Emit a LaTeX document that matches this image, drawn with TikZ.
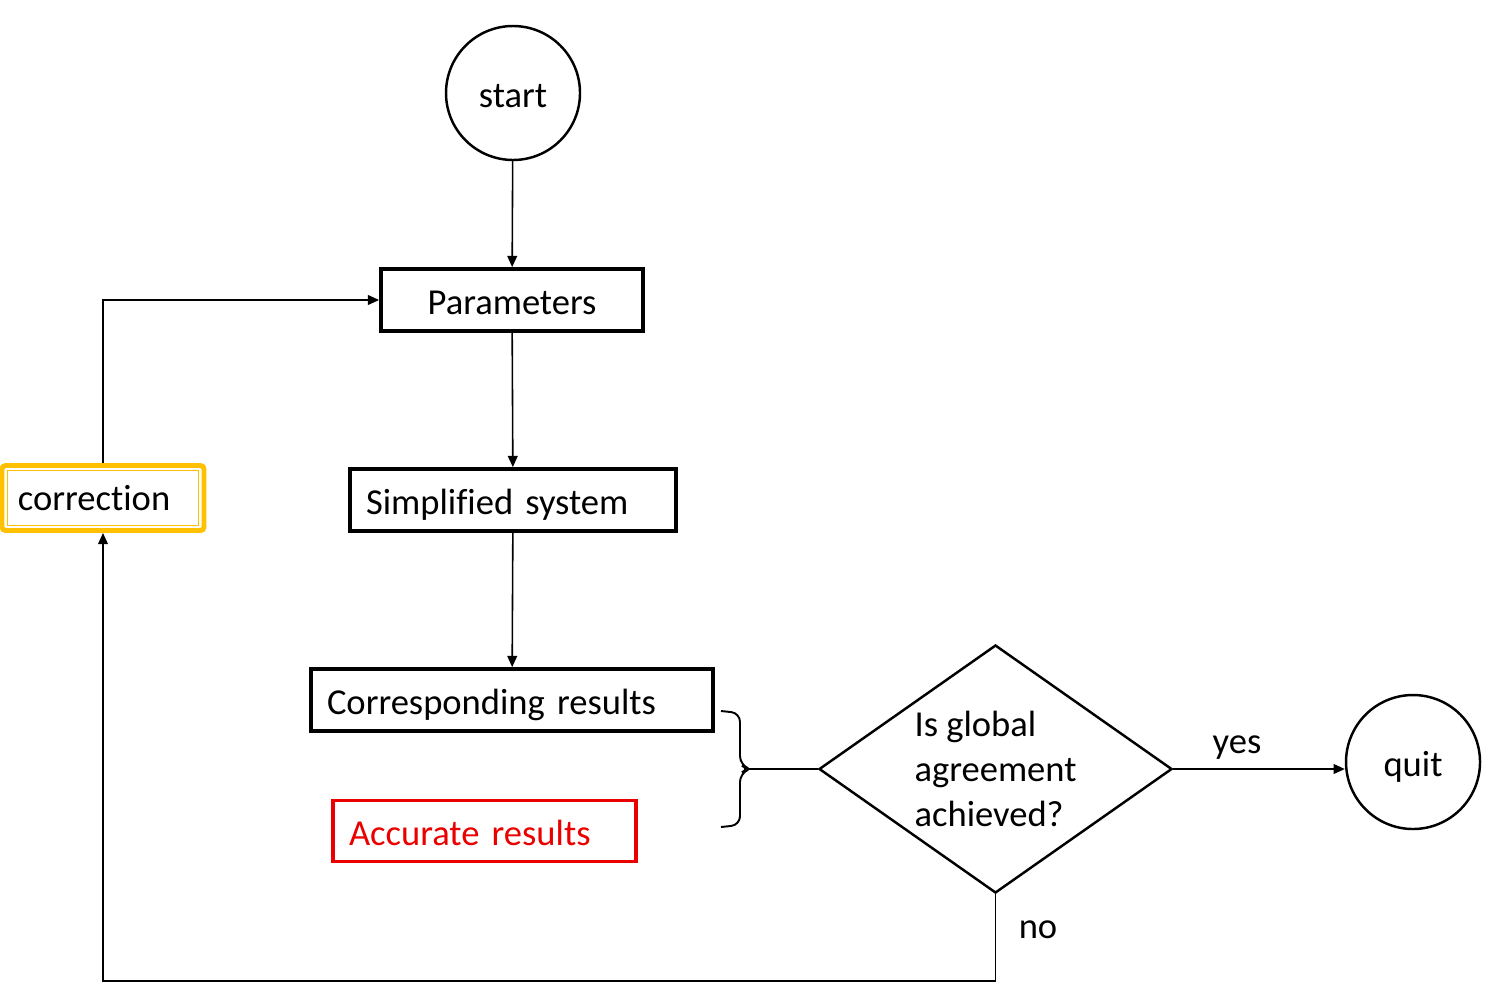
\documentclass[tikz,border=0pt]{standalone}
\usepackage{fontspec}
\setmainfont{Carlito}[Ligatures=NoCommon]
\usetikzlibrary{arrows.meta,shapes.geometric}
\definecolor{gold}{RGB}{255,192,0}
\definecolor{accred}{RGB}{235,0,0}

\begin{document}
\begin{tikzpicture}[line width=0.45pt,>={Triangle[length=3.2pt,width=2.8pt]},
  font=\fontsize{10.4}{12.8}\selectfont,
  box/.style={draw,line width=1.1pt,minimum height=0.62cm,inner xsep=0.16cm,align=left,text height=9.5pt,text depth=1pt},
  ring/.style={draw,circle,line width=0.7pt,minimum size=1.34cm,inner sep=0pt,text height=9.5pt,text depth=1pt}]
\useasboundingbox (0,0) rectangle (14.85,9.89);
% start / quit
\node[ring] (start) at (5.13,8.96) {start};
\node[ring] (quit) at (14.13,2.27) {quit};
% boxes
\node[box,text width=2.30cm,align=center] (param) at (5.12,6.89) {Parameters};
\node[box,text width=2.94cm] (simp) at (5.13,4.89) {Simplified system};
\node[box,text width=3.70cm] (corres) at (5.12,2.89) {Corresponding results};
\node[box,draw=accred,text=accred,text width=2.71cm,minimum height=0.61cm] (acc) at (4.845,1.58) {Accurate results};
% correction (double yellow frame)
\node[box,draw=gold,line width=1.4pt,rounded corners=1pt,text width=1.70cm,minimum height=0.65cm,text height=8pt] (corrn) at (1.03,4.91) {correction};
\draw[gold,line width=0.4pt] ([shift={(2.2pt,2.2pt)}]corrn.south west) rectangle ([shift={(-2.2pt,-2.2pt)}]corrn.north east);
% decision
\node[draw,diamond,line width=0.7pt,inner sep=0pt,aspect=1.42,minimum width=3.53cm,minimum height=2.48cm,align=left] (dec) at (9.955,2.20) {Is global\\agreement\\achieved?};
% brace
\draw[line width=0.55pt,rounded corners=2.5pt] (7.21,2.78) -- (7.40,2.76) -- (7.40,2.24) -- (7.50,2.20) -- (7.40,2.16) -- (7.40,1.64) -- (7.21,1.62);
\coordinate (tip) at (7.48,2.20);
\coordinate (bl) at (1.03,0.08);
% arrows
\draw[->] (start) -- (param);
\draw[->] (param) -- (simp);
\draw[->] (simp) -- (corres);
\draw (tip) -- (dec.west);
\draw[->] (dec.east) -- (dec.east -| quit.west);
\draw[->] (dec.south) |- (bl) -- (corrn.south);
\draw[->] (corrn.north) |- (param.west);
% labels
\node (yes) at (12.37,2.41) {yes};
\node (no) at (10.38,0.59) {no};
\end{tikzpicture}
\end{document}
